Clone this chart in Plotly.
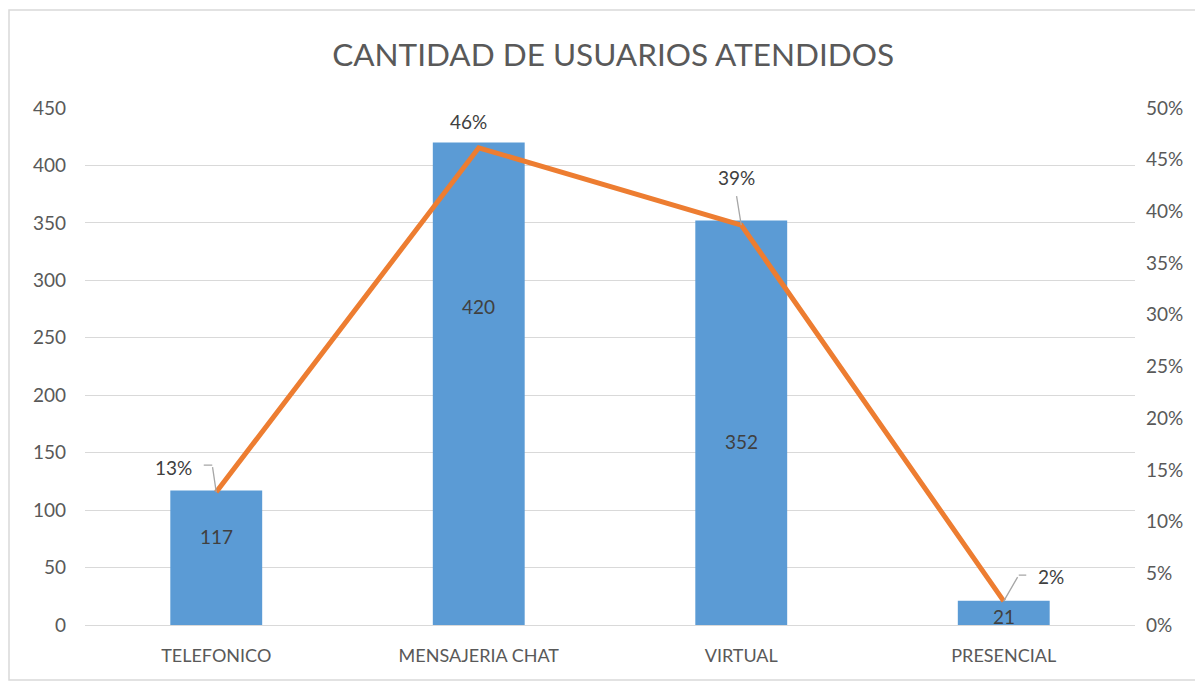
import plotly.graph_objects as go

categories = ["TELEFONICO", "MENSAJERIA CHAT", "VIRTUAL", "PRESENCIAL"]
usuarios = [117, 420, 352, 21]
porcentaje = [0.1286, 0.4615, 0.3868, 0.0231]
pct_labels = ["13%", "46%", "39%", "2%"]

FONT = "Lato"
TXT = "#404040"
AX = "#595959"
LEAD = "#A6A6A6"

fig = go.Figure()
fig.add_trace(go.Bar(x=categories, y=usuarios, marker_color="#5B9BD5",
                     marker_line_width=0, yaxis="y", showlegend=False))
fig.add_trace(go.Scatter(x=categories, y=porcentaje, mode="lines",
                         line=dict(color="#ED7D31", width=5), yaxis="y2",
                         showlegend=False))

# bar value labels (positioned as in reference)
val_shift = [-46, -164, -221, -16]
for c, v, s in zip(categories, usuarios, val_shift):
    fig.add_annotation(x=c, y=v, yref="y", text=str(v), showarrow=False,
                       yshift=s, font=dict(family=FONT, size=19, color=TXT))

# percent labels (pixel offsets from the line point)
txt_off = [(-43, 25), (-10, 26), (-5, 48), (47, 25)]
for c, p, t, (dx, dy) in zip(categories, porcentaje, pct_labels, txt_off):
    fig.add_annotation(x=c, y=p, yref="y2", text=t, showarrow=False,
                       xshift=dx, yshift=dy,
                       font=dict(family=FONT, size=19, color=TXT))

# leader lines: list of segments (category index, start dx,dy -> end dx,dy)
leaders = [
    (0, (-14, 27), (-4, 27)), (0, (-4, 27), (0, 0)),
    (2, (-5, 31), (0, 0)),
    (3, (24, 26), (15, 26)), (3, (15, 26), (0, 0)),
]
for i, (sx, sy), (ex, ey) in leaders:
    fig.add_annotation(x=categories[i], y=porcentaje[i], yref="y2", text=" ",
                       font=dict(size=1), showarrow=True, arrowhead=0,
                       arrowwidth=1.3, arrowcolor=LEAD, standoff=0,
                       startstandoff=0,
                       xshift=ex, yshift=ey, ax=sx - ex, ay=-(sy - ey))

L, R, T, B = 77, 76, 100, 65
fig.update_layout(
    width=1203, height=682,
    margin=dict(l=L, r=R, t=T, b=B),
    paper_bgcolor="white", plot_bgcolor="white",
    bargap=0.65,
    title=dict(text="CANTIDAD DE USUARIOS ATENDIDOS", x=0.503, xanchor="center",
               y=0.931, yanchor="middle", yref="container",
               font=dict(family=FONT, size=31.5, color=AX)),
    font=dict(family=FONT, color=AX),
    xaxis=dict(showgrid=False, showline=True, linecolor="#D9D9D9",
               linewidth=1.3,
               tickfont=dict(family=FONT, size=18, color=AX),
               ticks="", automargin=False, ticklabelstandoff=14),
    yaxis=dict(range=[0, 450], dtick=50, showgrid=True, gridcolor="#D9D9D9",
               gridwidth=1.3, zeroline=False, showline=False,
               tickfont=dict(family=FONT, size=19, color=AX),
               ticks="", automargin=False, ticklabelstandoff=18),
    yaxis2=dict(range=[0, 0.5], dtick=0.05, tickformat=".0%", overlaying="y",
                side="right", showgrid=False, zeroline=False, showline=False,
                tickfont=dict(family=FONT, size=19, color=AX),
                ticks="", automargin=False, ticklabelstandoff=10),
)

plot_w = 1203 - L - R
plot_h = 682 - T - B
plot_bottom = T + plot_h
fig.add_shape(type="rect", xref="paper", yref="paper",
              x0=(1 - L) / plot_w, x1=2,
              y0=(plot_bottom - 672) / plot_h, y1=(plot_bottom - 2) / plot_h,
              line=dict(color="#D9D9D9", width=1.5), fillcolor="rgba(0,0,0,0)",
              layer="below")

fig.write_html("out.html")
